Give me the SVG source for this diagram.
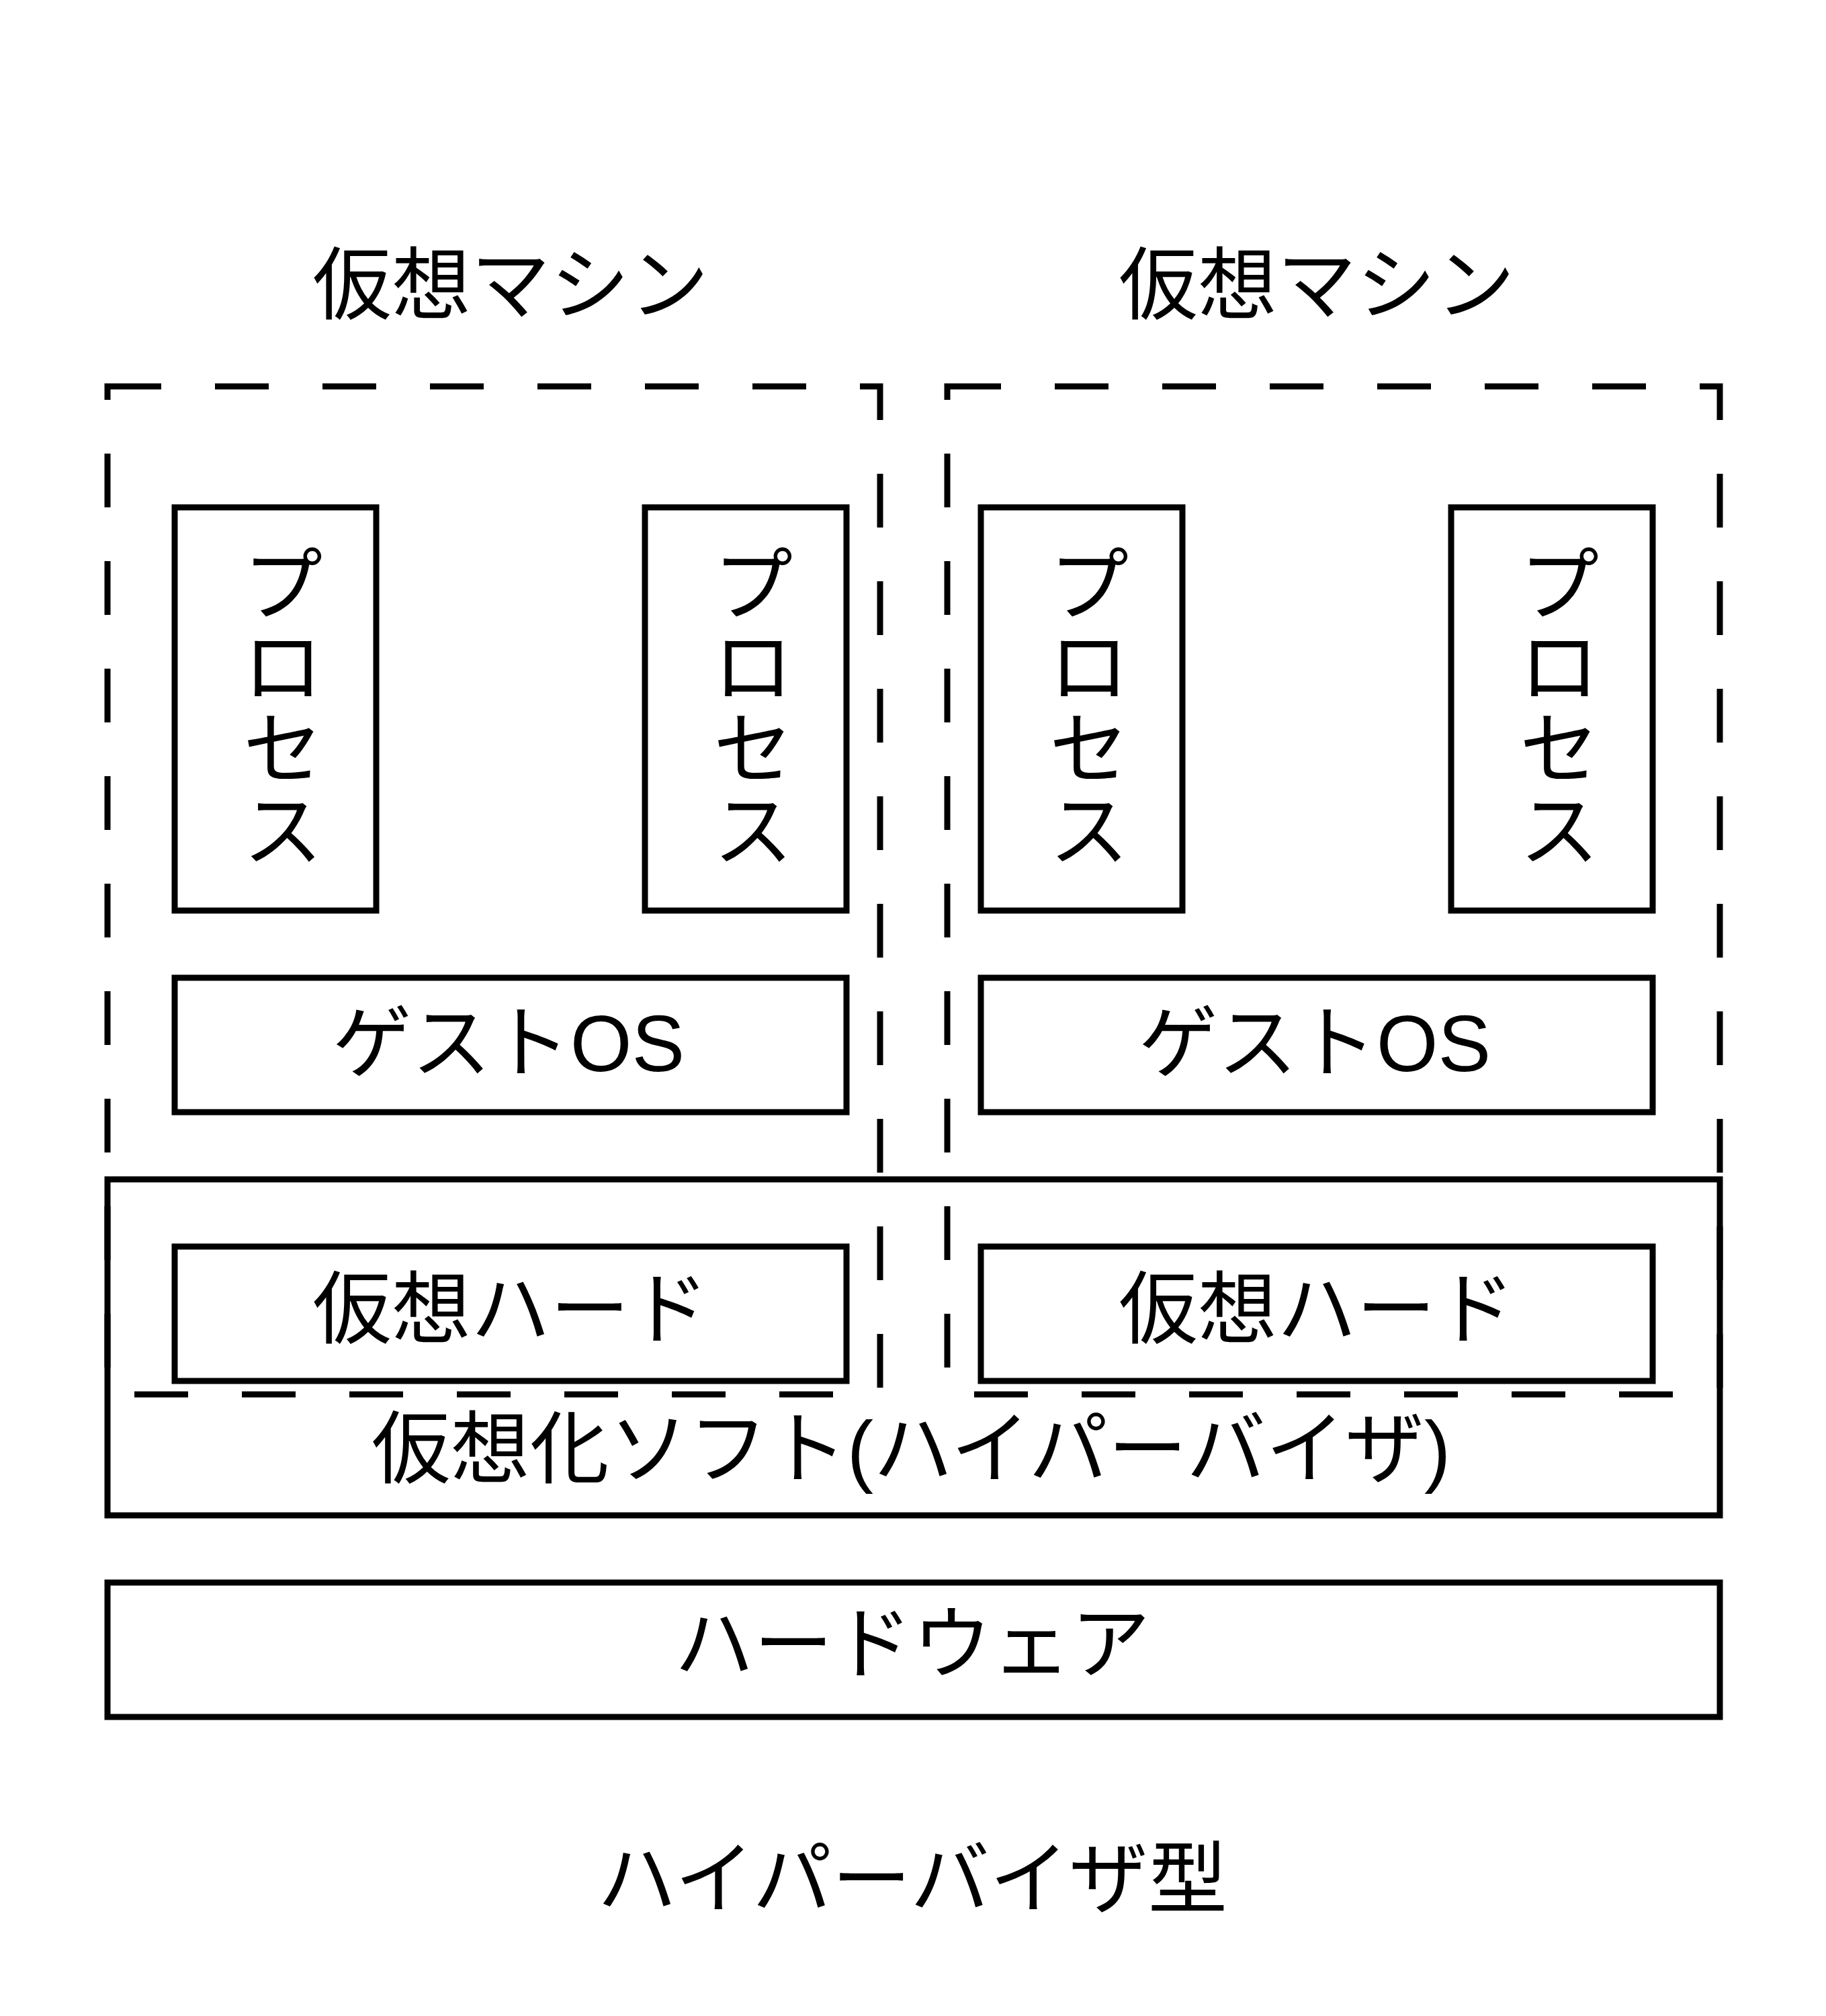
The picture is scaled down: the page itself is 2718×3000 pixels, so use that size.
<svg xmlns="http://www.w3.org/2000/svg" width="2718" height="3000" viewBox="0 0 2718 3000">
<style>
.box{fill:none;stroke:#000;stroke-width:9}
.dash{fill:none;stroke:#000;stroke-width:9;stroke-dasharray:80 80}
.t{font-family:"Liberation Sans","Noto Sans CJK JP",sans-serif;font-size:118px;fill:#000;text-anchor:middle}
</style>
<rect width="2718" height="3000" fill="#fff"/>
<g id="hardware">
<rect class="box" x="160" y="2355" width="2400" height="200"/>
<text class="t" x="1358" y="2488">ハードウェア</text>
</g>
<g id="hypervisor">
<rect class="box" x="160" y="1755" width="2400" height="500"/>
<text class="t" x="1356" y="2198">仮想化ソフト(ハイパーバイザ)</text>
</g>
<g id="vm1">
<rect class="dash" x="160" y="575" width="1150" height="1500"/>
<text class="t" x="760" y="466">仮想マシン</text>
</g>
<g id="vm2">
<rect class="dash" x="1410" y="575" width="1150" height="1500"/>
<text class="t" x="1960" y="466">仮想マシン</text>
</g>
<g id="vm1-process1">
<rect class="box" x="260" y="755" width="300" height="600"/>
<text class="t" x="421"><tspan x="421" y="913">プ</tspan><tspan x="421" y="1035">ロ</tspan><tspan x="421" y="1157">セ</tspan><tspan x="421" y="1279">ス</tspan></text>
</g>
<g id="vm1-process2">
<rect class="box" x="960" y="755" width="300" height="600"/>
<text class="t" x="1121"><tspan x="1121" y="913">プ</tspan><tspan x="1121" y="1035">ロ</tspan><tspan x="1121" y="1157">セ</tspan><tspan x="1121" y="1279">ス</tspan></text>
</g>
<g id="vm2-process1">
<rect class="box" x="1460" y="755" width="300" height="600"/>
<text class="t" x="1621"><tspan x="1621" y="913">プ</tspan><tspan x="1621" y="1035">ロ</tspan><tspan x="1621" y="1157">セ</tspan><tspan x="1621" y="1279">ス</tspan></text>
</g>
<g id="vm2-process2">
<rect class="box" x="2160" y="755" width="300" height="600"/>
<text class="t" x="2321"><tspan x="2321" y="913">プ</tspan><tspan x="2321" y="1035">ロ</tspan><tspan x="2321" y="1157">セ</tspan><tspan x="2321" y="1279">ス</tspan></text>
</g>
<g id="vm1-guestos">
<rect class="box" x="260" y="1455" width="1000" height="200"/>
<text class="t" x="757" y="1594">ゲストOS</text>
</g>
<g id="vm2-guestos">
<rect class="box" x="1460" y="1455" width="1000" height="200"/>
<text class="t" x="1957" y="1594">ゲストOS</text>
</g>
<g id="vm1-vhw">
<rect class="box" x="260" y="1855" width="1000" height="200"/>
<text class="t" x="760" y="1990">仮想ハード</text>
</g>
<g id="vm2-vhw">
<rect class="box" x="1460" y="1855" width="1000" height="200"/>
<text class="t" x="1960" y="1990">仮想ハード</text>
</g>
<g id="connectors"/>
<g id="caption">
<text class="t" x="1358" y="2838">ハイパーバイザ型</text>
</g>
</svg>
